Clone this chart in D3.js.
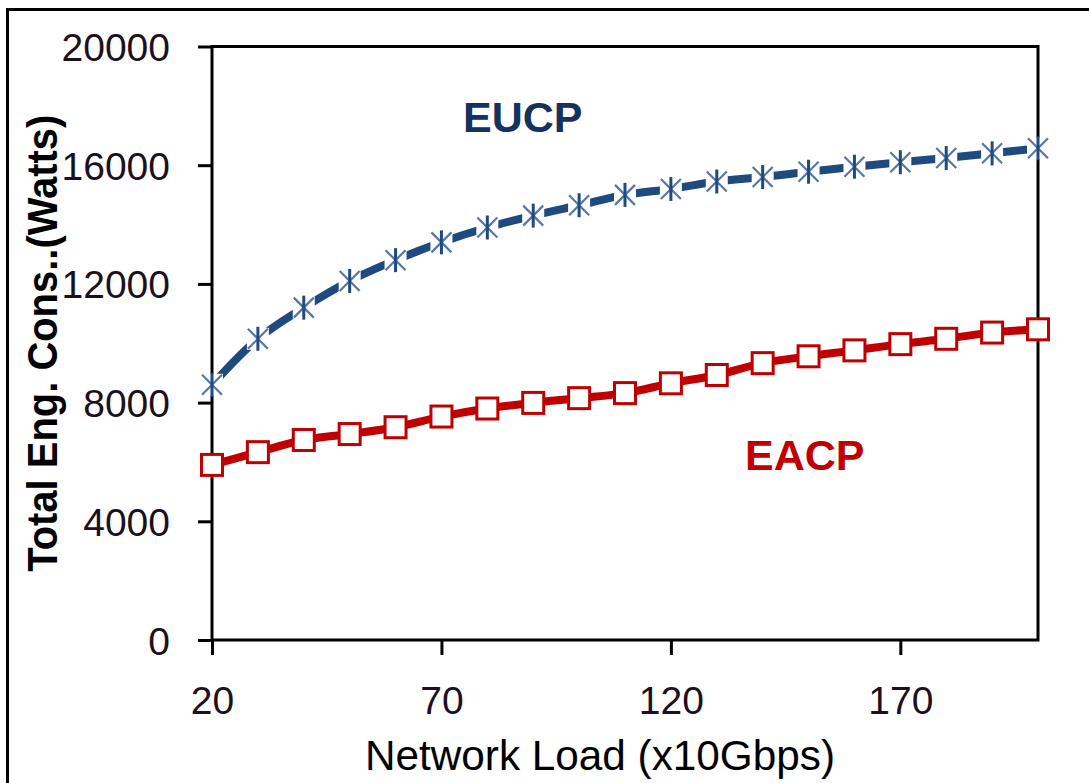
<!DOCTYPE html>
<html>
<head>
<meta charset="utf-8">
<script src="https://cdn.jsdelivr.net/npm/d3@7/dist/d3.min.js"></script>
<style>
  html, body { margin: 0; padding: 0; background: #fff; }
  svg { display: block; }
  text { font-family: "Liberation Sans", Arial, sans-serif; }
</style>
</head>
<body>
<svg id="chart" width="1089" height="783"></svg>
<script>
// Network load (x10 Gbps) sampled every 10 units
const loads = [20, 30, 40, 50, 60, 70, 80, 90, 100, 110, 120, 130, 140, 150, 160, 170, 180, 190, 200];
// Total energy consumption (Watts) per scheme
const eucp = [8600, 10150, 11200, 12100, 12800, 13400, 13900, 14300, 14650, 15000, 15200, 15450, 15600, 15780, 15950, 16100, 16240, 16400, 16570];
const eacp = [5900, 6330, 6740, 6940, 7170, 7530, 7800, 7990, 8150, 8320, 8650, 8930, 9330, 9560, 9760, 9970, 10150, 10360, 10470];
const xTicks = [20, 70, 120, 170];
const yTicks = [0, 4000, 8000, 12000, 16000, 20000];

const svg = d3.select("#chart");

// outer frame (left and top edges visible)
svg.append("rect")
  .attr("x", 7.5).attr("y", 9.5)
  .attr("width", 1200).attr("height", 900)
  .attr("fill", "none").attr("stroke", "#000").attr("stroke-width", 3);

const plot = { left: 212, top: 46.5, right: 1038, bottom: 640 };

const x = d3.scaleLinear().domain([20, 200]).range([plot.left, plot.right]);
const y = d3.scaleLinear().domain([0, 20000]).range([plot.bottom, plot.top]);

// plot area border
svg.append("rect")
  .attr("x", plot.left).attr("y", plot.top)
  .attr("width", plot.right - plot.left).attr("height", plot.bottom - plot.top)
  .attr("fill", "none").attr("stroke", "#000").attr("stroke-width", 3);

// y axis ticks and labels
const yAxis = d3.axisLeft(y).tickValues(yTicks).tickSize(14).tickPadding(28).tickFormat(d3.format("d"));
const gy = svg.append("g").attr("transform", `translate(${plot.left},0)`).call(yAxis);
gy.select(".domain").remove();
gy.selectAll(".tick line").attr("stroke", "#000").attr("stroke-width", 3);
gy.selectAll(".tick text")
  .attr("font-size", 39).attr("fill", "#1a1020")
  .attr("dy", "0.36em")
  .style("font-family", "'Liberation Sans', Arial, sans-serif");

// x axis ticks and labels
const xAxis = d3.axisBottom(x).tickValues(xTicks).tickSize(15).tickPadding(31).tickFormat(d3.format("d"));
const gx = svg.append("g").attr("transform", `translate(0,${plot.bottom})`).call(xAxis);
gx.select(".domain").remove();
gx.selectAll(".tick line").attr("stroke", "#000").attr("stroke-width", 3);
gx.selectAll(".tick text")
  .attr("font-size", 39).attr("fill", "#1a1020")
  .attr("dy", "0.71em")
  .style("font-family", "'Liberation Sans', Arial, sans-serif");

// axis titles
svg.append("text")
  .attr("x", 600).attr("y", 770)
  .attr("text-anchor", "middle")
  .attr("font-size", 42).attr("fill", "#000")
  .attr("textLength", 470).attr("lengthAdjust", "spacingAndGlyphs")
  .text("Network Load (x10Gbps)");

svg.append("text")
  .attr("transform", `translate(57,${(plot.top + plot.bottom) / 2}) rotate(-90)`)
  .attr("text-anchor", "middle")
  .attr("font-size", 43).attr("font-weight", "bold").attr("fill", "#000")
  .attr("textLength", 457).attr("lengthAdjust", "spacingAndGlyphs")
  .text("Total Eng. Cons..(Watts)");

// series lines
const line = d3.line()
  .x((d, i) => x(loads[i]))
  .y(d => y(d))
  .curve(d3.curveCatmullRom.alpha(0.5));

svg.append("path").datum(eacp)
  .attr("d", line)
  .attr("fill", "none").attr("stroke", "#C00000").attr("stroke-width", 8)
  .attr("stroke-linejoin", "round");

svg.append("path").datum(eucp)
  .attr("d", line)
  .attr("fill", "none").attr("stroke", "#1F4A7F").attr("stroke-width", 8)
  .attr("stroke-linejoin", "round");

// EACP markers: open squares
svg.append("g").selectAll("rect").data(eacp).join("rect")
  .attr("x", (d, i) => x(loads[i]) - 10.5)
  .attr("y", d => y(d) - 10.5)
  .attr("width", 21).attr("height", 21)
  .attr("fill", "#fff").attr("stroke", "#C00000").attr("stroke-width", 3);

// EUCP markers: asterisk on a white backing
const star = svg.append("g").selectAll("g").data(eucp).join("g")
  .attr("transform", (d, i) => `translate(${x(loads[i])},${y(d)})`);
star.append("rect")
  .attr("x", -11).attr("y", -11).attr("width", 22).attr("height", 22)
  .attr("fill", "#fff");
star.append("path")
  .attr("d", "M-10,-10L10,10M-10,10L10,-10")
  .attr("stroke", "#5677A6").attr("stroke-width", 2.2).attr("fill", "none");
star.append("path")
  .attr("d", "M0,-12L0,12")
  .attr("stroke", "#1F4A7F").attr("stroke-width", 3).attr("fill", "none");

// series labels
svg.append("text")
  .attr("x", 463).attr("y", 132)
  .attr("font-size", 43).attr("font-weight", "bold").attr("fill", "#14325E")
  .text("EUCP");

svg.append("text")
  .attr("x", 745).attr("y", 470)
  .attr("font-size", 43).attr("font-weight", "bold").attr("fill", "#C00000")
  .text("EACP");
</script>
</body>
</html>
